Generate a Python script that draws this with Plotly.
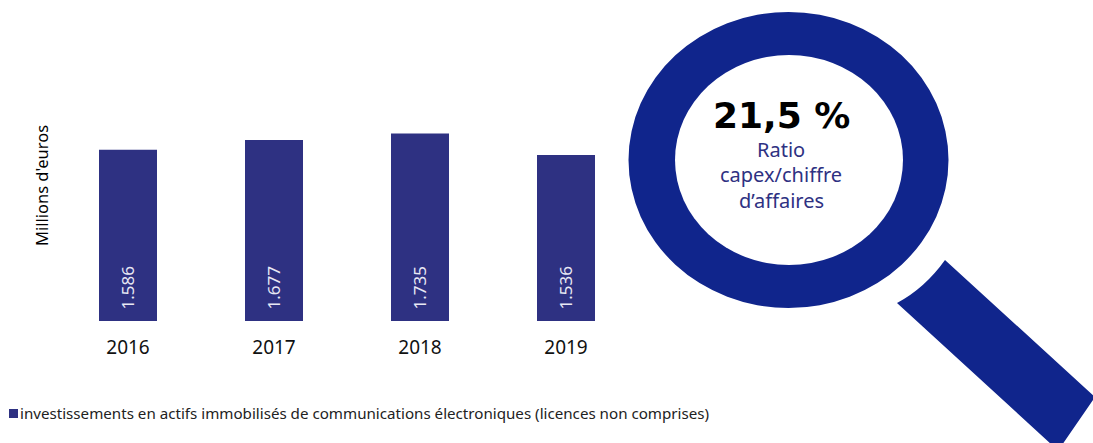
import plotly.graph_objects as go

W, H = 1093, 443
years = ["2016", "2017", "2018", "2019"]
capex = [1586, 1677, 1735, 1536]
labels = ["1.586", "1.677", "1.735", "1.536"]
legend_text = "investissements en actifs immobilisés de communications électroniques (licences non comprises)"
y_title = "Millions d'euros"
ratio_value = "21,5 %"
ratio_lines = ["Ratio", "capex/chiffre", "d’affaires"]

BAR = "#2E3182"
LENS = "#10258C"
FONT = "Noto Sans"
L, R, T, B = 55, 454, 105, 122


def px(x):
    return (x - L) / (W - L - R)


def py(y):
    return 1 - (y - T) / (H - T - B)


def ellipse(cx, cy, rx, ry, color):
    return dict(type="circle", xref="paper", yref="paper",
                x0=px(cx - rx), x1=px(cx + rx), y0=py(cy - ry), y1=py(cy + ry),
                fillcolor=color, line=dict(width=0), layer="above")


def poly(path):
    return dict(type="path", xref="paper", yref="paper", path=path,
                fillcolor=LENS, line=dict(width=0), layer="above")


def text(x, y, s, size, color="#000000", family=FONT, bold=False, angle=0, xanchor="center"):
    return dict(xref="paper", yref="paper", x=px(x), y=py(y), text=f"<b>{s}</b>" if bold else s,
                showarrow=False, xanchor=xanchor, yanchor="middle", textangle=angle,
                font=dict(size=size, color=color, family=family))


fig = go.Figure(go.Bar(x=years, y=capex, marker=dict(color=BAR, line=dict(width=0)),
                       width=58 / 146, showlegend=False, hoverinfo="x+y"))

shapes = [
    ellipse(788.5, 160, 160, 148, LENS),
    ellipse(789, 160, 114, 105, "#FFFFFF"),
    poly(f"M{px(945)},{py(260)} Q{px(925)},{py(288)} {px(897)},{py(303)} "
         f"L{px(1052)},{py(445)} L{px(1062)},{py(445)} L{px(1095)},{py(397)} Z"),
    dict(type="rect", xref="paper", yref="paper", x0=px(9), x1=px(18), y0=py(418), y1=py(409),
         fillcolor=BAR, line=dict(width=0)),
]

annotations = [
    dict(x=i, y=0, xref="x", yref="y", text=lab, showarrow=False, textangle=-90,
         yanchor="bottom", xanchor="center", yshift=9, xshift=-1,
         font=dict(size=17, color="#E8E8F4", family=FONT))
    for i, lab in enumerate(labels)
]
annotations += [
    text(41, 186, y_title, 16.5, angle=-90),
    text(18, 413, legend_text, 15.15, color="#222222", xanchor="left"),
    text(781, 115, ratio_value, 36, family="DejaVu Sans", bold=True),
    text(781, 149, ratio_lines[0], 20, color=BAR),
    text(781, 174, ratio_lines[1], 20, color=BAR),
    text(781, 200, ratio_lines[2], 20, color=BAR),
]

fig.update_layout(
    width=W, height=H, autosize=False,
    margin=dict(l=L, r=R, t=T, b=B, pad=0),
    paper_bgcolor="white", plot_bgcolor="white",
    shapes=shapes, annotations=annotations,
    xaxis=dict(type="category", range=[-0.5, 3.5], showgrid=False, zeroline=False, showline=False, ticks="",
               ticklabelstandoff=13, tickfont=dict(size=19, color="#111111", family=FONT)),
    yaxis=dict(range=[0, 2000], visible=False),
)
fig.write_html("out.html", config=dict(displayModeBar=False),
               post_script="document.body.style.margin='0';")
